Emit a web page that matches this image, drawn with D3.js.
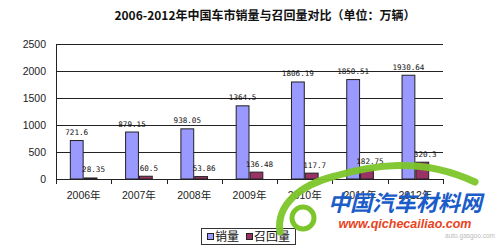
<!DOCTYPE html>
<html><head><meta charset="utf-8">
<script src="https://cdn.jsdelivr.net/npm/d3@7"></script>
<style>body{margin:0;background:#fff}svg{display:block}</style>
</head><body>
<svg id="c" width="500" height="248"></svg>
<script>
const categories = ["2006年","2007年","2008年","2009年","2010年","2011年","2012年"];
const sales = [721.6, 879.15, 938.05, 1364.5, 1806.19, 1850.51, 1930.64];
const recalls = [28.35, 60.5, 53.86, 136.48, 117.7, 182.75, 320.3];
const salesLabels = ["721.6","879.15","938.05","1364.5","1806.19","1850.51","1930.64"];
const recallLabels = ["28.35","60.5","53.86","136.48","117.7","182.75","320.3"];
const seriesNames = ["销量","召回量"];
const yTicks = [0,500,1000,1500,2000,2500];
const colors = ["#9999ff","#993366"];

const svg = d3.select("#c");
const L = 56, R = 443, T = 44, B = 179;
const x0 = d3.scaleBand().domain(categories).range([L, R]).padding(0);
const x1 = d3.scaleBand().domain([0,1]).range([0, x0.bandwidth()]).paddingInner(0).paddingOuter(1);
const y = d3.scaleLinear().domain([0,2500]).range([B, T]);
const cjk = "'Liberation Sans','Noto Sans CJK SC',sans-serif";

// title
svg.append("text").attr("x",265).attr("y",20).attr("text-anchor","middle")
  .attr("font-family","'Noto Sans CJK SC',sans-serif").attr("font-weight","bold")
  .attr("font-size",12).attr("fill","#111").text("2006-2012年中国车市销量与召回量对比（单位：万辆）");

// gridlines
svg.append("g").selectAll("line").data(yTicks.filter(d=>d>0)).join("line")
  .attr("x1",L).attr("x2",R).attr("y1",d=>y(d)+0.5).attr("y2",d=>y(d)+0.5)
  .attr("stroke","#222").attr("stroke-width",1);

// y labels
svg.append("g").selectAll("text").data(yTicks).join("text")
  .attr("x",46).attr("y",d=>y(d)+4).attr("text-anchor","end")
  .attr("font-family","'Liberation Sans',Arial,sans-serif").attr("font-size",10.5).attr("fill","#222")
  .text(d=>d);

// bars
const data = categories.map((c,i)=>({c, v:[sales[i], recalls[i]], l:[salesLabels[i], recallLabels[i]]}));
const g = svg.append("g").selectAll("g").data(data).join("g").attr("transform",d=>`translate(${x0(d.c)},0)`);
g.selectAll("rect").data(d=>d.v.map((v,k)=>({v,k}))).join("rect")
  .attr("x",d=>x1(d.k)+0.5).attr("y",d=>y(d.v)+0.5).attr("width",x1.bandwidth()-1)
  .attr("height",d=>Math.max(0,B-y(d.v)-0.5))
  .attr("fill",d=>colors[d.k]).attr("stroke","#222").attr("stroke-width",1);
g.selectAll("text").data(d=>d.l.map((t,k)=>({t,k,v:d.v[k]}))).join("text")
  .attr("x",d=>x1(d.k)+x1.bandwidth()/2 + (d.k?3:0)).attr("y",d=>y(d.v)-5)
  .attr("text-anchor","middle").attr("font-family","'DejaVu Sans Mono',monospace")
  .attr("font-size",7.6).attr("fill","#111").text(d=>d.t);

// axes lines
svg.append("line").attr("x1",L+0.5).attr("x2",L+0.5).attr("y1",T).attr("y2",B+0.5).attr("stroke","#222");
svg.append("line").attr("x1",L).attr("x2",R).attr("y1",B+0.5).attr("y2",B+0.5).attr("stroke","#222");
const bounds = categories.map(c=>x0(c)).concat([R]);
svg.append("g").selectAll("line").data(bounds).join("line")
  .attr("x1",d=>Math.round(d)+0.5).attr("x2",d=>Math.round(d)+0.5).attr("y1",B).attr("y2",B+5).attr("stroke","#222");

// x labels
svg.append("g").selectAll("text").data(categories).join("text")
  .attr("x",d=>x0(d)+x0.bandwidth()/2).attr("y",199).attr("text-anchor","middle")
  .attr("font-family",cjk).attr("font-size",10.5).attr("fill","#222").text(d=>d);

// legend
const lg = svg.append("g");
lg.append("rect").attr("x",201.5).attr("y",228.5).attr("width",94).attr("height",16).attr("fill","#fff").attr("stroke","#333");
const items = [{x:207, tx:215},{x:246, tx:254}];
items.forEach((it,k)=>{
  lg.append("rect").attr("x",it.x+0.5).attr("y",233.5).attr("width",6).attr("height",6).attr("fill",colors[k]).attr("stroke","#222");
  lg.append("text").attr("x",it.tx).attr("y",241).attr("font-family","'Noto Sans CJK SC',sans-serif")
    .attr("font-size",12).attr("fill","#111").text(seriesNames[k]);
});

// watermark
const wm = svg.append("g");
wm.append("path").attr("d","M280,232 C276,205 300,185 335,176 C370,166 420,156 475,182")
  .attr("fill","none").attr("stroke","#7cc52a").attr("stroke-width",7).attr("stroke-linecap","round").attr("opacity",0.95);
wm.append("circle").attr("cx",303).attr("cy",218).attr("r",11).attr("fill","none").attr("stroke","#7cc52a").attr("stroke-width",5);
wm.append("text").attr("x",405).attr("y",211).attr("text-anchor","middle")
  .attr("font-family","'Noto Sans CJK SC',sans-serif").attr("font-weight","bold").attr("font-style","italic")
  .attr("font-size",22).attr("fill","#1a5cc8").attr("transform","skewX(0)").text("中国汽车材料网");
wm.append("text").attr("x",405).attr("y",228).attr("text-anchor","middle")
  .attr("font-family","'Liberation Sans',Arial,sans-serif").attr("font-weight","bold").attr("font-style","italic")
  .attr("font-size",12.5).attr("fill","#e8441c").text("www.qichecailiao.com");
wm.append("text").attr("x",470).attr("y",238).attr("text-anchor","middle")
  .attr("font-family","'Liberation Sans',Arial,sans-serif").attr("font-size",6.5).attr("fill","#bbb").text("auto.gasgoo.com");
</script>
</body></html>
